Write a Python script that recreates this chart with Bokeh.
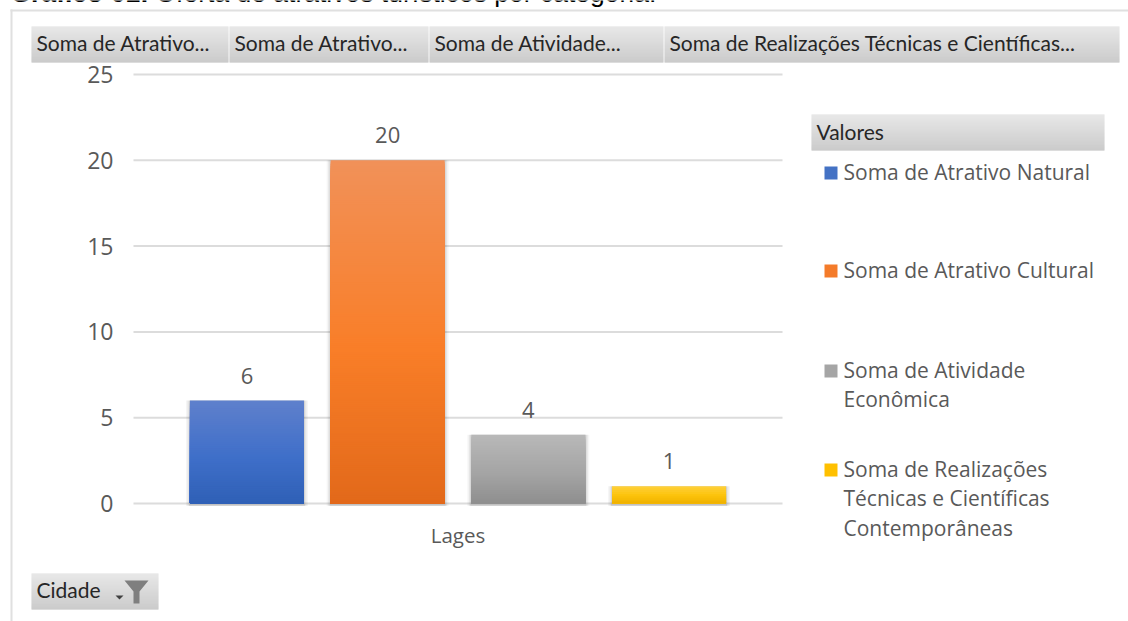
from bokeh.plotting import figure
from bokeh.embed import file_html
from bokeh.resources import INLINE
from bokeh.models import BoxAnnotation, Label, PolyAnnotation, Range1d, FixedTicker
from bokeh.core.properties import value

# ---- data ----
categories = ["Lages"]
series = ["Soma de Atrativo Natural", "Soma de Atrativo Cultural",
          "Soma de Atividade Econômica",
          "Soma de Realizações Técnicas e Científicas Contemporâneas"]
values = [6, 20, 4, 1]
y_ticks = [0, 5, 10, 15, 20, 25]
title_bold = "Gráfico 01:"
title_rest = "Oferta de atrativos turísticos por categoria."
header_labels = ["Soma de Atrativo...", "Soma de Atrativo...", "Soma de Atividade...",
                 "Soma de Realizações Técnicas e Científicas..."]
legend_title = "Valores"
legend_lines = [["Soma de Atrativo Natural"], ["Soma de Atrativo Cultural"],
                ["Soma de Atividade", "Econômica"],
                ["Soma de Realizações", "Técnicas e Científicas", "Contemporâneas"]]
filter_label = "Cidade"

# ---- styles ----
stops = [[(0.0, "#5f80cc"), (0.55, "#3f6fc9"), (1.0, "#2f60b6")],
         [(0.0, "#f19159"), (0.55, "#f97e28"), (1.0, "#e2691a")],
         [(0.0, "#b8b8b8"), (0.55, "#a5a5a5"), (1.0, "#8e8e8e")],
         [(0.0, "#ffd03a"), (0.55, "#fcc30a"), (1.0, "#eeb000")]]
legend_colors = ["#4472c4", "#f47b2a", "#a5a5a5", "#ffc000"]
FONT = "Open Sans"
HFONT = "Lato"
TXT = "#595959"
DARK = "#262626"


def hex2(c):
    return tuple(int(c[i:i + 2], 16) for i in (1, 3, 5))


def mix(a, b, t):
    return "#%02x%02x%02x" % tuple(round(x + (y - x) * t) for x, y in zip(hex2(a), hex2(b)))


def grad(st, t):
    for (t0, c0), (t1, c1) in zip(st, st[1:]):
        if t <= t1:
            return mix(c0, c1, (t - t0) / (t1 - t0))
    return st[-1][1]


W, H = 1128, 621
PX_STEP = 140.7     # pixels between bar centres
PX_MID = 457.5      # pixel of the group centre
PX_W = 114          # bar width in pixels
PX_GL, PX_GR = 133, 782   # gridline extent
Y0, Y25 = 503, 74
PX_U = (Y0 - Y25) / 25


def px2x(px):
    return (px - PX_MID) / PX_STEP + 1.5


mid = (len(values) - 1) / 2
p = figure(width=W, height=H, x_range=Range1d(px2x(0), px2x(W)),
           y_range=Range1d(-(H - Y0) / PX_U, 25 + Y25 / PX_U),
           output_backend="svg", toolbar_location=None,
           min_border=0, background_fill_color="white", border_fill_color="white")
p.outline_line_color = None
p.xgrid.visible = False
p.ygrid.visible = False
p.xaxis.fixed_location = 0
p.yaxis.fixed_location = px2x(PX_GL)
p.yaxis.ticker = FixedTicker(ticks=y_ticks)
p.xaxis.ticker = FixedTicker(ticks=[mid])
p.xaxis.major_label_overrides = {mid: categories[0]}
for ax in (p.xaxis[0], p.yaxis[0]):
    ax.axis_line_color = None
    ax.major_tick_line_color = None
    ax.minor_tick_line_color = None
    ax.major_tick_out = 0
    ax.major_tick_in = 0
    ax.major_label_text_font = FONT
    ax.major_label_text_color = TXT
p.yaxis.major_label_text_font_size = "23px"
p.xaxis.major_label_text_font_size = "20.5px"
p.yaxis.major_label_standoff = 20
p.xaxis.major_label_standoff = 17

# gridlines
p.segment(x0=[px2x(PX_GL)] * len(y_ticks), x1=[px2x(PX_GR)] * len(y_ticks), y0=y_ticks, y1=y_ticks,
          line_color="#dcdcdc", line_width=2)

# ---- bars: overlapping slices, painted from the top down, give the gradient ----
xs = list(range(len(values)))
bar_w = PX_W / PX_STEP
for i, v, st in zip(xs, values, stops):
    for grow, a in ((8, 0.04), (5, 0.06), (2, 0.09)):
        p.vbar(x=[i], top=[v], bottom=[-0.15], width=bar_w + grow / PX_STEP, fill_color="#000000",
               fill_alpha=a, line_color=None)
    n = v * 9
    tops = [v * (1 - k / n) for k in range(n)]
    cols = [grad(st, (k + .5) / n) for k in range(n)]
    p.vbar(x=[i] * n, top=tops, bottom=0, width=bar_w, fill_color=cols, line_color=None)
p.text(x=xs, y=values, text=[str(v) for v in values], text_font=value(FONT), text_font_size="22px",
       text_color=TXT, text_align="center", text_baseline="middle", y_offset=-25)


# ---- chrome helpers (page-pixel coordinates) ----
def box(l, t, r, b, color):
    p.add_layout(BoxAnnotation(left=l, right=r, top=t, bottom=b, left_units="canvas",
                               right_units="canvas", top_units="canvas", bottom_units="canvas",
                               fill_color=color, fill_alpha=1, line_color=None))


def grad_box(l, t, r, b):
    for y in range(t, b):
        u = (y - t) / (b - t)
        box(l, y, r, y + 1, mix("#e0e0e0", "#b9b9b9", u))


def text(x, y, s, size="20px", color=TXT, style="normal", font=FONT):
    p.add_layout(Label(x=x, y=y, x_units="canvas", y_units="canvas", text=s, text_font=font,
                       text_font_size=size, text_color=color, text_font_style=style,
                       text_baseline="alphabetic"))


# outer frame
box(10, 9, W, 11, "#e0e0e0")
box(10, 9, 12, H, "#e0e0e0")

# title (cut off by the top of the page)
text(10, -8, title_bold, "26.5px", "#000000", "bold", "Liberation Sans")
text(155, -8, title_rest, "26.5px", "#000000", "normal", "Liberation Sans")

# header buttons
for (l, r), s in zip([(31, 228), (229, 428), (429, 663), (664, 1119)], header_labels):
    grad_box(l, 26, r, 62)
    text(l + 5, 42, s, "21px", DARK, font=HFONT)

# legend
grad_box(811, 114, 1104, 150)
text(816, 131, legend_title, "21px", DARK, font=HFONT)
ys = [179, 277, 377, 476]
for lines, col, y in zip(legend_lines, legend_colors, ys):
    box(824, y - 13, 837, y, col)
    for k, line in enumerate(lines):
        text(843, y - 8 + k * 29.5, line, "21px", TXT)

# filter button
grad_box(31, 573, 158, 609)
text(36, 589, filter_label, "21px", DARK, font=HFONT)
p.add_layout(PolyAnnotation(xs=[124, 148, 139, 139, 133, 133], ys=[580, 580, 591, 603, 603, 591],
                            xs_units="canvas", ys_units="canvas", fill_color="#7f7f7f", fill_alpha=1,
                            line_color=None))
p.add_layout(PolyAnnotation(xs=[115, 123, 119], ys=[595, 595, 599], xs_units="canvas", ys_units="canvas",
                            fill_color="#404040", fill_alpha=1, line_color=None))

open("out.html", "w").write(file_html(p, INLINE))
